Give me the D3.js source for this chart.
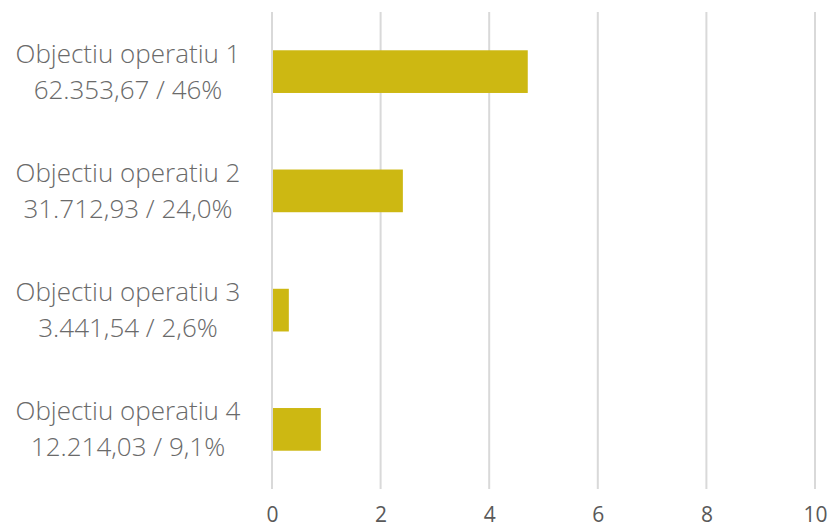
<!DOCTYPE html>
<html>
<head>
<meta charset="utf-8">
<script src="https://d3js.org/d3.v7.min.js"></script>
<style>
  body { margin: 0; background: #fff; }
  text { font-family: "Open Sans", "Noto Sans", sans-serif; fill: #595959; }
</style>
</head>
<body>
<div id="chart"></div>
<script>
// Data
const categories = ["Objectiu operatiu 1", "Objectiu operatiu 2", "Objectiu operatiu 3", "Objectiu operatiu 4"];
const subLabels = ["62.353,67 / 46%", "31.712,93 / 24,0%", "3.441,54 / 2,6%", "12.214,03 / 9,1%"];
const values = [4.71, 2.41, 0.31, 0.90];
const xTicks = [0, 2, 4, 6, 8, 10];

const width = 830, height = 529;
const margin = { top: 12, right: 15, bottom: 40, left: 272 };

const svg = d3.select("#chart")
    .append("svg")
    .attr("width", width)
    .attr("height", height);

const x = d3.scaleLinear()
    .domain([0, 10])
    .range([margin.left, width - margin.right]);

const y = d3.scaleBand()
    .domain(categories)
    .range([margin.top, height - margin.bottom])
    .paddingInner(0.642)
    .paddingOuter(0.321);

// Gridlines
svg.append("g")
    .selectAll("line")
    .data(xTicks)
    .join("line")
    .attr("x1", d => x(d))
    .attr("x2", d => x(d))
    .attr("y1", margin.top)
    .attr("y2", height - margin.bottom)
    .attr("stroke", "#d9d9d9")
    .attr("stroke-width", 2);

// Bars
svg.append("g")
    .selectAll("rect")
    .data(values)
    .join("rect")
    .attr("x", x(0) + 1)
    .attr("y", (d, i) => y(categories[i]))
    .attr("width", d => x(d) - x(0) - 1)
    .attr("height", y.bandwidth())
    .attr("fill", "#cdb812");

// X axis tick labels
const xAxis = d3.axisBottom(x).tickValues(xTicks).tickSize(0).tickPadding(18);
svg.append("g")
    .attr("transform", `translate(0,${height - margin.bottom})`)
    .call(xAxis)
    .call(g => g.select(".domain").remove())
    .selectAll("text")
    .attr("font-size", 21)
    .style("font-family", "'Open Sans', sans-serif")
    .style("fill", "#595959");

// Category labels (two lines, centered)
const labels = svg.append("g")
    .selectAll("text")
    .data(categories)
    .join("text")
    .attr("text-anchor", "middle")
    .attr("font-size", 26)
    .attr("font-weight", 300)
    .style("fill", "#6a6a6a");

labels.append("tspan")
    .attr("x", 128)
    .attr("y", d => y(d) + y.bandwidth() / 2 - 9)
    .text(d => d);

labels.append("tspan")
    .attr("x", 128)
    .attr("y", d => y(d) + y.bandwidth() / 2 + 27)
    .text((d, i) => subLabels[i]);
</script>
</body>
</html>
